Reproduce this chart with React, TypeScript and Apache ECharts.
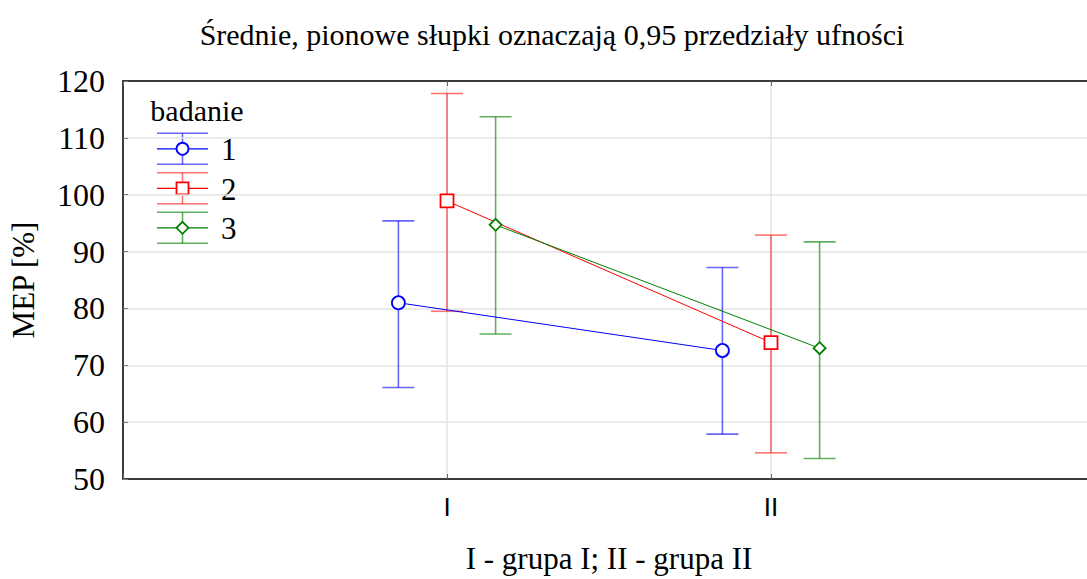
import React, { useEffect, useRef } from 'react';
import * as echarts from 'echarts';

const groups = ['I', 'II'];
const seriesNames = ['1', '2', '3'];
const mean1 = [81.0, 72.6];
const lower1 = [66.1, 57.9];
const upper1 = [95.4, 87.2];
const mean2 = [98.9, 74.0];
const lower2 = [79.5, 54.6];
const upper2 = [117.8, 92.9];
const mean3 = [94.7, 73.0];
const lower3 = [75.5, 53.6];
const upper3 = [113.7, 91.7];
const yTicks = [50, 60, 70, 80, 90, 100, 110, 120];

const means = [mean1, mean2, mean3];
const lowers = [lower1, lower2, lower3];
const uppers = [upper1, upper2, upper3];
const offsets = [-0.15, 0, 0.15];
const symbols = ['circle', 'rect', 'diamond'];
const lineColors = ['#0000ff', '#ff0000', '#008000'];
const barColors = ['rgba(0,0,255,0.6)', 'rgba(255,0,0,0.55)', 'rgba(0,128,0,0.62)'];
const FONT = 'Liberation Serif';

export default function App() {
  const ref = useRef<HTMLDivElement>(null);
  useEffect(() => {
    const chart = echarts.init(ref.current as HTMLDivElement, null, { renderer: 'svg' });
    const series: any[] = [];
    seriesNames.forEach((name, i) => {
      series.push({
        type: 'custom',
        name: name + ' CI',
        z: 1,
        clip: false,
        encode: { x: 0, y: [1, 2] },
        data: groups.map((g, k) => [k + 1 + offsets[i], lowers[i][k], uppers[i][k]]),
        renderItem: (params: any, api: any) => {
          const x = api.value(0);
          const lo = api.coord([x, api.value(1)]);
          const hi = api.coord([x, api.value(2)]);
          const h = 16;
          const st = { stroke: barColors[i], lineWidth: 1.6 };
          return {
            type: 'group',
            children: [
              { type: 'line', shape: { x1: lo[0], y1: lo[1], x2: hi[0], y2: hi[1] }, style: st },
              { type: 'line', shape: { x1: lo[0] - h, y1: lo[1], x2: lo[0] + h, y2: lo[1] }, style: st },
              { type: 'line', shape: { x1: hi[0] - h, y1: hi[1], x2: hi[0] + h, y2: hi[1] }, style: st },
            ],
          };
        },
      });
      series.push({
        type: 'line',
        name,
        z: 3,
        data: groups.map((g, k) => [k + 1 + offsets[i], means[i][k]]),
        symbol: symbols[i],
        symbolSize: i === 2 ? 12 : 13,
        showAllSymbol: true,
        lineStyle: { color: lineColors[i], width: 1 },
        itemStyle: { color: '#fff', borderColor: lineColors[i], borderWidth: 1.8 },
      });
    });

    const legendChildren: any[] = [
      {
        type: 'text',
        x: 197,
        y: 110,
        style: { text: 'badanie', fontFamily: FONT, fontSize: 30, fill: '#000', align: 'center', verticalAlign: 'middle' },
      },
    ];
    seriesNames.forEach((name, i) => {
      const top = 133.3 + i * 39.5;
      const mid = top + 15.5;
      const bot = top + 31;
      const cx = 182.5;
      const bst = { stroke: barColors[i], lineWidth: 1.6 };
      legendChildren.push(
        { type: 'line', shape: { x1: 157, y1: top, x2: 208, y2: top }, style: bst },
        { type: 'line', shape: { x1: 157, y1: bot, x2: 208, y2: bot }, style: bst },
        { type: 'line', shape: { x1: cx, y1: top, x2: cx, y2: bot }, style: bst },
        { type: 'line', shape: { x1: 157, y1: mid, x2: 208, y2: mid }, style: { stroke: lineColors[i], lineWidth: 1.2 } }
      );
      const mst = { fill: '#fff', stroke: lineColors[i], lineWidth: 1.8 };
      if (i === 0) legendChildren.push({ type: 'circle', shape: { cx, cy: mid, r: 6 }, style: mst });
      else if (i === 1) legendChildren.push({ type: 'rect', shape: { x: cx - 6, y: mid - 6, width: 12, height: 12 }, style: mst });
      else
        legendChildren.push({
          type: 'polygon',
          shape: { points: [[cx, mid - 6], [cx + 6, mid], [cx, mid + 6], [cx - 6, mid]] },
          style: mst,
        });
      legendChildren.push({
        type: 'text',
        x: 221,
        y: mid + 1,
        style: { text: name, fontFamily: FONT, fontSize: 31, fill: '#000', align: 'left', verticalAlign: 'middle' },
      });
    });

    const option: any = {
      animation: false,
      backgroundColor: '#fff',
      title: {
        text: 'Średnie, pionowe słupki oznaczają 0,95 przedziały ufności',
        left: 547,
        textAlign: 'center',
        top: 14,
        textStyle: { fontFamily: FONT, fontSize: 30, fontWeight: 'normal', color: '#000' },
      },
      grid: {
        left: 120,
        top: 81,
        right: 0,
        bottom: 97,
        show: false,
      },
      xAxis: [
        {
          type: 'value',
          min: 0,
          max: 3,
          interval: 1,
          name: 'I - grupa I; II - grupa II',
          nameLocation: 'middle',
          nameGap: 64,
          nameTextStyle: { fontFamily: FONT, fontSize: 31, color: '#000' },
          axisLine: { show: true, lineStyle: { color: '#000', width: 1.5 } },
          axisTick: { show: true, inside: true, length: 5, lineStyle: { color: '#666' } },
          splitLine: { show: true, lineStyle: { color: '#e3e3e3', width: 1.5 } },
          axisLabel: {
            margin: 15,
            fontFamily: 'Liberation Sans',
            fontSize: 26,
            color: '#000',
            formatter: (v: number) => (v >= 1 && v <= groups.length ? groups[v - 1] : ''),
          },
        },
        {
          type: 'value',
          position: 'top',
          min: 0,
          max: 3,
          interval: 1,
          axisLine: { show: true, lineStyle: { color: '#000', width: 1.5 } },
          axisTick: { show: true, inside: true, length: 5, lineStyle: { color: '#666' } },
          axisLabel: { show: false },
          splitLine: { show: false },
        },
      ],
      yAxis: {
        type: 'value',
        min: yTicks[0],
        max: yTicks[yTicks.length - 1],
        interval: 10,
        name: 'MEP [%]',
        nameLocation: 'middle',
        nameGap: 84,
        nameRotate: 90,
        nameTextStyle: { fontFamily: FONT, fontSize: 31, color: '#000' },
        axisLine: { show: true, lineStyle: { color: '#000', width: 1.5 } },
        axisTick: { show: true, inside: true, length: 5, lineStyle: { color: '#777' } },
        splitLine: { show: true, lineStyle: { color: '#e3e3e3', width: 1.5 } },
        axisLabel: { margin: 18, fontFamily: FONT, fontSize: 32, color: '#000' },
      },
      graphic: legendChildren,
      series,
    };
    chart.setOption(option);
    return () => chart.dispose();
  }, []);
  return (
    <div
      style={{ position: 'fixed', left: 0, top: 0, width: 1087, height: 579, overflow: 'hidden', background: '#fff' }}
    >
      <div ref={ref} style={{ width: 1098, height: 579 }} />
    </div>
  );
}
